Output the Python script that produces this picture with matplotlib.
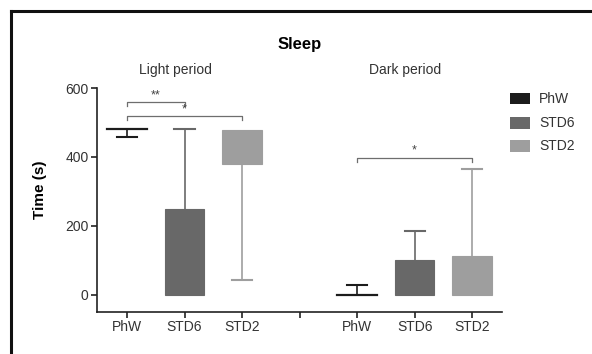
import matplotlib
matplotlib.use("Agg")
import matplotlib.pyplot as plt
from matplotlib.patches import Rectangle
from matplotlib.lines import Line2D

plt.rcParams["font.family"] = ["Liberation Sans Narrow", "Liberation Sans", "DejaVu Sans"]

# ---- data ----
groups = ["PhW", "STD6", "STD2"]
colors = ["#1c1c1c", "#686868", "#9e9e9e"]
light_pos = [1, 2, 3]
dark_pos = [5, 6, 7]

# box low / high, whisker end
light_low = [480, 0, 380]
light_high = [480, 250, 478]
light_whisk = [458, 482, 42]

dark_low = [0, 0, 0]
dark_high = [0, 100, 113]
dark_whisk = [27, 186, 366]

# significance brackets: (x1, x2, y, label)
sig_brackets = [(1, 2, 560, "**"), (1, 3, 518, "*"), (5, 7, 398, "*")]

BAR_W = 0.69
CAP_W = 0.35

fig = plt.figure(figsize=(5.92, 3.54), dpi=100, facecolor="white")
ax = fig.add_axes([0.1639, 0.1186, 0.6841, 0.6328])


def draw_boxes(pos, low, high, whisk):
    for x, lo, hi, wh, c in zip(pos, low, high, whisk, colors):
        # whisker from the nearest box edge to the end
        edge = hi if wh >= hi else lo
        ax.plot([x, x], [edge, wh], color=c, lw=1.2, zorder=1, solid_capstyle="butt")
        ax.plot([x - CAP_W / 2, x + CAP_W / 2], [wh, wh], color=c, lw=1.5, zorder=1)
        if hi - lo > 0:
            ax.add_patch(Rectangle((x - BAR_W / 2, lo), BAR_W, hi - lo,
                                   facecolor=c, edgecolor=c, lw=0.8, zorder=2))
        else:
            ax.plot([x - BAR_W / 2, x + BAR_W / 2], [lo, lo], color=c, lw=1.6, zorder=2)


draw_boxes(light_pos, light_low, light_high, light_whisk)
draw_boxes(dark_pos, dark_low, dark_high, dark_whisk)

for x1, x2, y, lab in sig_brackets:
    ax.plot([x1, x1, x2, x2], [y - 12, y, y, y - 12], color="#6e6e6e", lw=0.9)
    ax.text((x1 + x2) / 2, y + 2, lab, ha="center", va="bottom",
            fontsize=9, color="#444444")

ax.set_xlim(0.478, 7.52)
ax.set_ylim(-50, 600)
ax.set_yticks([0, 200, 400, 600])
ax.set_xticks(light_pos + [4] + dark_pos)
ax.set_xticklabels(groups + [""] + groups)
ax.spines["top"].set_visible(False)
ax.spines["right"].set_visible(False)
ax.spines["left"].set_bounds(-50, 600)
for s in ("left", "bottom"):
    ax.spines[s].set_linewidth(1.2)
    ax.spines[s].set_color("#222222")
ax.tick_params(axis="both", length=4, width=1.2, color="#222222",
               labelsize=10, labelcolor="#333333", pad=2)

fig.text(40 / 592, 1 - 190 / 354, "Time (s)", rotation=90, ha="center", va="center",
         fontsize=11, fontweight="bold", family=["Liberation Sans", "DejaVu Sans"])
fig.text(0.507, 0.873, "Sleep", ha="center", va="center", fontsize=12,
         fontweight="bold", family=["Liberation Sans", "DejaVu Sans"])
fig.text(0.296, 0.802, "Light period", ha="center", va="center", fontsize=10, color="#333333")
fig.text(0.684, 0.802, "Dark period", ha="center", va="center", fontsize=10, color="#333333")

# legend by hand
for i, (g, c) in enumerate(zip(groups, colors)):
    ytop = [92.7, 117, 140][i]
    fig.patches.append(Rectangle((510 / 592, 1 - (ytop + 11.5) / 354), 20 / 592, 11.5 / 354,
                                 transform=fig.transFigure, facecolor=c, edgecolor="none"))
    fig.text(539 / 592, 1 - (ytop + 5.8) / 354, g, ha="left", va="center",
             fontsize=10, color="#333333")

# outer frame (left and top edges)
fig.lines.append(Line2D([11 / 592, 11 / 592], [0, 1 - 11 / 354], transform=fig.transFigure,
                        color="#111111", lw=2.2))
fig.lines.append(Line2D([11 / 592, 1], [1 - 11 / 354, 1 - 11 / 354], transform=fig.transFigure,
                        color="#111111", lw=2.2))

fig.savefig("out.png", dpi=100, facecolor="white")
